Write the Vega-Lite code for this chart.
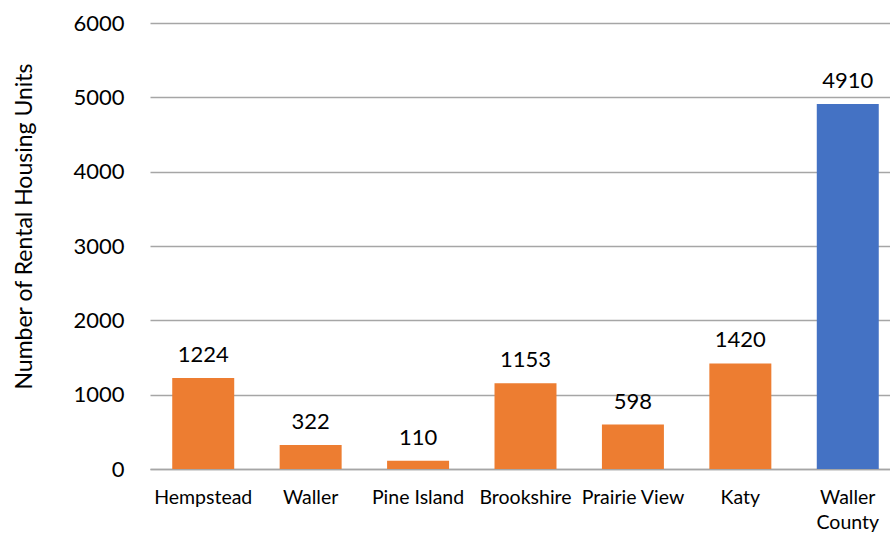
{
  "$schema": "https://vega.github.io/schema/vega-lite/v6.json",
  "width": 740,
  "height": 446,
  "autosize": "none",
  "padding": {"left": 150, "top": 23, "right": 0, "bottom": 65},
  "background": "white",
  "data": {
    "values": [
      {"place": "Hempstead", "units": 1224, "kind": "city"},
      {"place": "Waller", "units": 322, "kind": "city"},
      {"place": "Pine Island", "units": 110, "kind": "city"},
      {"place": "Brookshire", "units": 1153, "kind": "city"},
      {"place": "Prairie View", "units": 598, "kind": "city"},
      {"place": "Katy", "units": 1420, "kind": "city"},
      {"place": "Waller County", "units": 4910, "kind": "county"}
    ]
  },
  "config": {
    "view": {"stroke": null},
    "font": "Lato"
  },
  "encoding": {
    "x": {
      "field": "place",
      "type": "nominal",
      "sort": null,
      "scale": {"range": [0, 751], "paddingInner": 0.423, "paddingOuter": 0.207},
      "axis": {
        "title": null,
        "labelAngle": 0,
        "labelFontSize": 19.5,
        "labelColor": "#000000",
        "labelPadding": 19,
        "labelLineHeight": 25,
        "labelExpr": "datum.value == 'Waller County' ? ['Waller', 'County'] : datum.value",
        "ticks": false,
        "domainColor": "#A6A6A6",
        "domainWidth": 1.5,
        "labelFont": "Lato"
      }
    },
    "y": {
      "field": "units",
      "type": "quantitative",
      "scale": {"domain": [0, 6000]},
      "axis": {
        "title": "Number of Rental Housing Units",
        "titleFontSize": 23,
        "titleFontWeight": "normal",
        "titleColor": "#000000",
        "titleFont": "Lato",
        "titleX": -126,
        "titleY": 203,
        "titleAngle": -90,
        "titleAlign": "center",
        "titleBaseline": "middle",
        "values": [0, 1000, 2000, 3000, 4000, 5000, 6000],
        "format": "d",
        "labelFontSize": 22,
        "labelColor": "#000000",
        "labelPadding": 26,
        "labelFont": "Lato",
        "ticks": false,
        "domain": false,
        "gridColor": "#A6A6A6",
        "gridWidth": 1.5
      }
    }
  },
  "layer": [
    {
      "mark": {"type": "bar"},
      "encoding": {
        "color": {
          "field": "kind",
          "type": "nominal",
          "scale": {"domain": ["city", "county"], "range": ["#ED7D31", "#4472C4"]},
          "legend": null
        }
      }
    },
    {
      "mark": {"type": "text", "baseline": "bottom", "dy": -11, "fontSize": 22, "color": "#000000", "font": "Lato"},
      "encoding": {
        "text": {"field": "units", "type": "quantitative", "format": "d"}
      }
    }
  ]
}
